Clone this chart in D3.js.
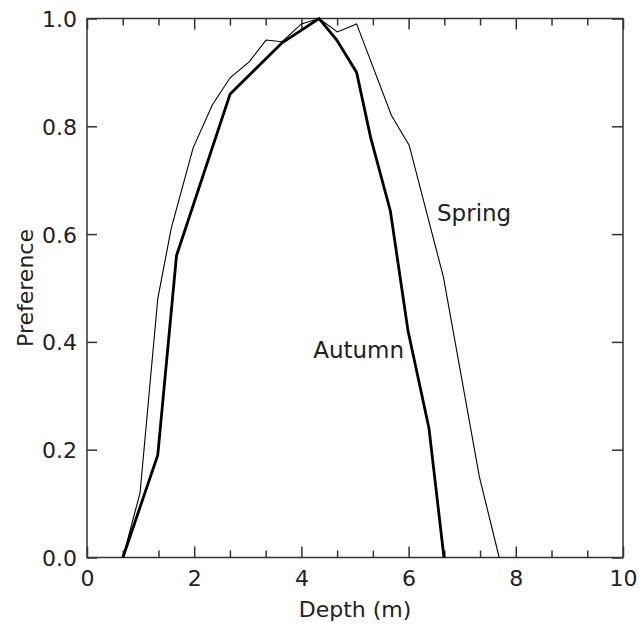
<!DOCTYPE html>
<html>
<head>
<meta charset="utf-8">
<script src="https://cdn.jsdelivr.net/npm/d3@7"></script>
<style>
  body { margin: 0; background: #fff; }
  text { font-family: "DejaVu Sans", sans-serif; fill: #222; }
</style>
</head>
<body>
<div class="vis-chart"></div>
<script>
// depth (m) vs preference
const springDepth = [0.67, 0.99, 1.32, 1.57, 1.98, 2.34, 2.67, 3.03, 3.34, 3.64, 4.0, 4.33, 4.67, 5.03, 5.68, 6.01, 6.65, 7.32, 7.69];
const springPref  = [0, 0.12, 0.48, 0.61, 0.76, 0.84, 0.89, 0.92, 0.96, 0.957, 0.99, 1.0, 0.975, 0.99, 0.82, 0.765, 0.52, 0.15, 0];

const autumnDepth = [0.67, 1.32, 1.67, 2.67, 3.64, 4.33, 4.66, 5.03, 5.29, 5.66, 5.99, 6.38, 6.66];
const autumnPref  = [0, 0.19, 0.56, 0.86, 0.955, 1.0, 0.96, 0.90, 0.78, 0.643, 0.42, 0.24, 0];

const xTickLabels = [0, 2, 4, 6, 8, 10];
const yTickLabels = [0, 0.2, 0.4, 0.6, 0.8, 1.0];
const seriesNames = ["Spring", "Autumn"];

const draw = () => {
    d3.select(".vis-chart > *").remove();
    let margin = {top: 18.5, right: 18, bottom: 67.5, left: 87};
    const width = 641 - margin.left - margin.right;
    const height = 625 - margin.top - margin.bottom;

    let svg = d3.select('.vis-chart')
                .append('svg')
                .attr('width', 641)
                .attr('height', 625)
                .append("g")
                .attr("transform", "translate(" + margin.left + "," + margin.top + ")");

    let xScale = d3.scaleLinear().domain([0, 10]).range([0, width]);
    let yScale = d3.scaleLinear().domain([0, 1]).range([height, 0]);

    let line = d3.line()
                .x(function(d){ return xScale(d[0]); })
                .y(function(d){ return yScale(d[1]); });

    const spring = springDepth.map((d, i) => [d, springPref[i]]);
    const autumn = autumnDepth.map((d, i) => [d, autumnPref[i]]);

    // minor ticks every 2/3 m, major ones every 2 m
    const xMinor = d3.range(0, 10.001, 2 / 3).filter(v => Math.abs(v / 2 - Math.round(v / 2)) > 0.01);
    const stroke = "#333";

    const ticks = (axis, len) => axis.tickSizeInner(-len).tickSizeOuter(0).tickPadding(0);

    // bottom axis
    let gb = svg.append("g").attr("transform", "translate(0," + height + ")");
    gb.call(ticks(d3.axisBottom(xScale).tickValues(xTickLabels).tickFormat(d3.format("d")), 11));
    gb.append("g").call(ticks(d3.axisBottom(xScale).tickValues(xMinor).tickFormat(""), 7));
    gb.selectAll("text").attr("y", 28).attr("dy", 0);

    // top axis
    let gt = svg.append("g");
    gt.call(ticks(d3.axisTop(xScale).tickValues(xTickLabels).tickFormat(""), 11));
    gt.append("g").call(ticks(d3.axisTop(xScale).tickValues(xMinor).tickFormat(""), 7));

    // left / right axes
    let gl = svg.append("g");
    gl.call(ticks(d3.axisLeft(yScale).tickValues(yTickLabels).tickFormat(d3.format(".1f")), 10));
    gl.selectAll("text").attr("x", -10).attr("dy", "0.36em");
    let gr = svg.append("g").attr("transform", "translate(" + width + ",0)");
    gr.call(ticks(d3.axisRight(yScale).tickValues(yTickLabels).tickFormat(""), 11));

    svg.selectAll(".domain").remove();
    svg.selectAll(".tick line").attr("stroke", stroke).attr("stroke-width", 1.5);
    svg.selectAll(".tick text").style("font-size", "22px").style("font-family", null).attr("fill", "#222");

    // frame
    svg.append("rect")
        .attr("width", width).attr("height", height)
        .attr("fill", "none").attr("stroke", stroke).attr("stroke-width", 1.5);

    svg.append("path").datum(spring)
        .attr("d", line).attr("fill", "none")
        .attr("stroke", "#000").attr("stroke-width", 1.1).attr("stroke-linejoin", "miter");
    svg.append("path").datum(autumn)
        .attr("d", line).attr("fill", "none")
        .attr("stroke", "#000").attr("stroke-width", 2.8).attr("stroke-linejoin", "miter");

    // series labels
    svg.append("text").attr("x", xScale(6.53)).attr("y", yScale(0.625))
        .style("font-size", "23px").text(seriesNames[0]);
    svg.append("text").attr("x", xScale(4.22)).attr("y", yScale(0.37))
        .style("font-size", "23px").text(seriesNames[1]);

    // axis titles
    svg.append("text")
        .attr("x", width / 2).attr("y", height + 59)
        .attr("text-anchor", "middle").style("font-size", "22px")
        .text("Depth (m)");
    svg.append("text")
        .attr("transform", "translate(" + (33 - margin.left) + "," + (height / 2) + ") rotate(-90)")
        .attr("text-anchor", "middle").style("font-size", "22px")
        .text("Preference");
};

draw();
</script>
</body>
</html>
